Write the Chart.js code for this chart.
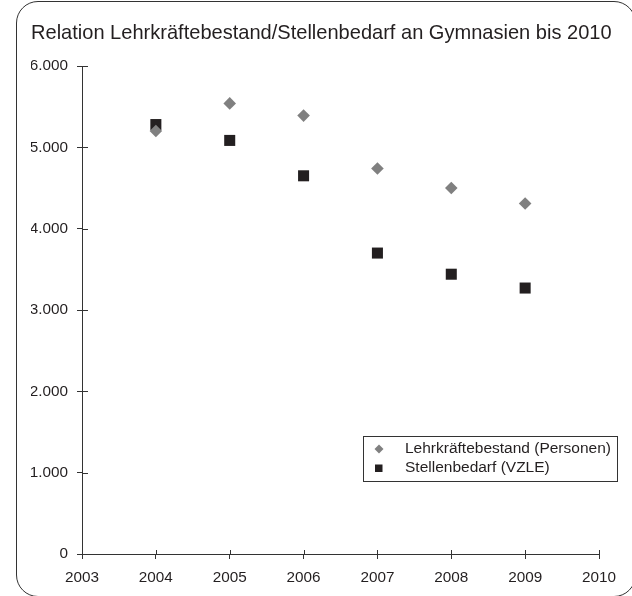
<!DOCTYPE html>
<html>
<head>
<meta charset="utf-8">
<script src="https://cdn.jsdelivr.net/npm/chart.js@4/dist/chart.umd.min.js"></script>
<style>
  html, body { margin: 0; padding: 0; background: #fff; overflow: hidden; }
  #wrap { position: relative; width: 632px; height: 596px; }
  #frame { position: absolute; left: 16px; top: 1px; width: 620px; height: 596px;
           border: 1.2px solid #333; border-radius: 22px; box-sizing: border-box; }
  canvas { position: absolute; left: 0; top: 0; }
</style>
</head>
<body>
<div id="wrap">
  <div id="frame"></div>
  <canvas id="c" width="632" height="596"></canvas>
</div>
<script>
const titleText = 'Relation Lehrkräftebestand/Stellenbedarf an Gymnasien bis 2010';
const years = [2004, 2005, 2006, 2007, 2008, 2009];
const lehrkraefte = [5200, 5540, 5390, 4740, 4500, 4310];
const stellenbedarf = [5280, 5085, 4650, 3700, 3440, 3270];
const seriesNames = ['Lehrkräftebestand (Personen)', 'Stellenbedarf (VZLE)'];
const seriesColors = ['#808080', '#231f20'];
const xRange = [2003, 2010];
const yRange = [0, 6000];

const fmt = v => String(v).replace(/\B(?=(\d{3})+(?!\d))/g, '.');
const FONT = '"Liberation Sans", Arial, sans-serif';
const TXT = '#231f20';

// fit the title font so the title spans the same width as in the reference
function titleSize() {
  const ctx = document.createElement('canvas').getContext('2d');
  ctx.font = '20px ' + FONT;
  const w = ctx.measureText(titleText).width;
  return w > 0 ? 20 * 581 / w : 20.1;
}

const crossTicks = {
  id: 'crossTicks',
  afterDraw(chart) {
    const ctx = chart.ctx;
    const xs = chart.scales.x, ys = chart.scales.y;
    ctx.save();
    ctx.strokeStyle = '#333';
    ctx.lineWidth = 1;
    ys.ticks.forEach(t => {
      const y = Math.round(ys.getPixelForValue(t.value)) + 0.5;
      ctx.beginPath(); ctx.moveTo(xs.left, y); ctx.lineTo(xs.left + 6, y); ctx.stroke();
    });
    xs.ticks.forEach(t => {
      const x = Math.round(xs.getPixelForValue(t.value)) + 0.5;
      ctx.beginPath(); ctx.moveTo(x, ys.bottom); ctx.lineTo(x, ys.bottom - 4); ctx.stroke();
    });
    ctx.restore();
  }
};

const boxLegend = {
  id: 'boxLegend',
  afterDraw(chart) {
    const ctx = chart.ctx;
    ctx.save();
    const bx = 363.5, by = 436.5, bw = 254, bh = 45;
    ctx.strokeStyle = '#333'; ctx.lineWidth = 1;
    ctx.fillStyle = '#fff';
    ctx.fillRect(bx, by, bw, bh);
    ctx.strokeRect(bx, by, bw, bh);
    ctx.font = '15.5px ' + FONT;
    ctx.textBaseline = 'middle';
    const rows = [449, 468];
    ctx.fillStyle = seriesColors[0];
    ctx.beginPath();
    ctx.moveTo(379, rows[0] - 4.5); ctx.lineTo(383.5, rows[0]); ctx.lineTo(379, rows[0] + 4.5); ctx.lineTo(374.5, rows[0]);
    ctx.closePath(); ctx.fill();
    ctx.fillStyle = seriesColors[1];
    ctx.fillRect(375, rows[1] - 3.5, 7.5, 7.5);
    ctx.fillStyle = TXT;
    ctx.fillText(seriesNames[0], 405, rows[0]);
    ctx.fillText(seriesNames[1], 405, rows[1]);
    ctx.restore();
  }
};

const tSize = titleSize();
const tLine = tSize * 1.2;

new Chart(document.getElementById('c'), {
  type: 'scatter',
  data: {
    datasets: [
      {
        label: seriesNames[0],
        data: years.map((y, i) => ({ x: y, y: lehrkraefte[i] })),
        pointStyle: 'rectRot', pointRadius: 6.3, pointHoverRadius: 6.3,
        backgroundColor: seriesColors[0], borderColor: seriesColors[0], borderWidth: 0
      },
      {
        label: seriesNames[1],
        data: years.map((y, i) => ({ x: y, y: stellenbedarf[i] })),
        pointStyle: 'rect', pointRadius: 7.8, pointHoverRadius: 7.8,
        backgroundColor: seriesColors[1], borderColor: seriesColors[1], borderWidth: 0
      }
    ]
  },
  options: {
    responsive: false,
    animation: false,
    events: [],
    layout: { padding: { left: 31, right: 15, top: 0, bottom: 0 } },
    plugins: {
      legend: { display: false },
      tooltip: { enabled: false },
      title: {
        display: true, text: titleText, align: 'start', color: TXT,
        font: { family: FONT, size: tSize, weight: 'normal', lineHeight: 1.2 },
        padding: { top: 33 - tLine / 2, bottom: 66 - (33 + tLine / 2) }
      }
    },
    scales: {
      x: {
        type: 'linear', min: xRange[0], max: xRange[1],
        ticks: { stepSize: 1, color: TXT, font: { family: FONT, size: 15.3 }, padding: 10,
                 callback: v => String(v), maxRotation: 0 },
        grid: { drawOnChartArea: false, drawTicks: true, tickLength: 5, color: '#333' },
        border: { color: '#333', width: 1 },
        afterFit(s) { s.height = 42; }
      },
      y: {
        type: 'linear', min: yRange[0], max: yRange[1],
        ticks: { stepSize: 1000, color: TXT, font: { family: FONT, size: 15.3 }, padding: 9,
                 callback: v => fmt(v) },
        grid: { drawOnChartArea: false, drawTicks: true, tickLength: 5, color: '#333' },
        border: { color: '#333', width: 1 },
        afterFit(s) { s.width = 51; }
      },
      spacer: {
        type: 'linear', position: 'right', display: true,
        grid: { display: false }, border: { display: false }, ticks: { display: false },
        afterFit(s) { s.width = 18; }
      }
    }
  },
  plugins: [crossTicks, boxLegend]
});
</script>
</body>
</html>
